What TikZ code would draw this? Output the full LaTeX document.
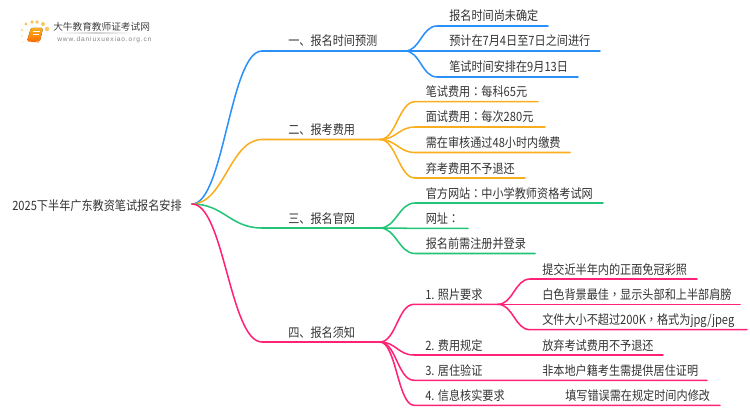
\documentclass[tikz,border=0pt]{standalone}
\usepackage{fontspec}
\setmainfont[FakeStretch=0.87]{Noto Sans CJK SC}
\newfontfamily\punct[FakeStretch=0.87]{Noto Sans CJK TC}
\newfontfamily\logofont{Noto Sans CJK SC}
\newfontfamily\urlfont[LetterSpace=14]{Liberation Sans}
\definecolor{cblue}{HTML}{2A90FB}
\definecolor{corange}{HTML}{F9AE1E}
\definecolor{cgreen}{HTML}{22C577}
\definecolor{cpink}{HTML}{FF2277}
\definecolor{ctext}{HTML}{333333}
\tikzset{
  label/.style={anchor=base west,inner sep=0pt,text=ctext,font=\fontsize{9.6pt}{11pt}\selectfont},
  link/.style={line width=1.15pt,line cap=round},
}
% from, colour, line start x, line end x, y, dx
\newcommand\conn[6]{%
  \coordinate (a) at (#3,#5);\coordinate (b) at (#4,#5);
  \draw[link,#2] (#1) .. controls +(#6,0) and ({#3-#6},#5) .. (a) -- (b);}
\begin{document}
\begin{tikzpicture}[x=0.75pt,y=-0.75pt]
\useasboundingbox (0,0) rectangle (750,410);
% logo
\fill[corange!70] (26,24) circle[radius=1.6];
\fill[corange!70] (32,22) circle[radius=1.8];
\fill[corange!70] (37,22) circle[radius=1.9];
\fill[corange!70] (43,24) circle[radius=2];
\fill[corange!70] (47,29) circle[radius=2.2];
\fill[corange!45] (22,30) circle[radius=1.4];
\fill[corange!35] (22,36) circle[radius=1.2];
\fill[corange!25] (23,42) circle[radius=.9];
\fill[rounded corners=1pt,top color=corange,bottom color=orange!90!red] (31,28) -- (43,28) -- (40,41) -- (27,41) -- cycle;
\draw[white,line width=.5pt] (33,31) -- (40,31) (32.5,34) -- (39,34);
\draw[orange!80!red,line width=.7pt] (28,41) -- (39,42);
\node[anchor=base west,inner sep=0pt,text=black!75] (logotext) at (53,31) {\logofont\fontsize{7.25pt}{8pt}\selectfont 大牛教育教师证考试网};
\fill[left color=white,right color=white,middle color=black!18] (58,33) rectangle (135,34);
\node[anchor=base west,inner sep=0pt,text=black!50] (logourl) at (57,41.5) {\urlfont\fontsize{4.9pt}{6pt}\selectfont www.daniuxuexiao.org.cn};
% root
\node[label,anchor=base west] (root) at (12,210) {2025下半年广东教资笔试报名安排};
\coordinate (r) at (192,204);
\coordinate (j1) at (405,51);
\coordinate (j2) at (380,139.5);
\coordinate (j3) at (380,228);
\coordinate (j4) at (380,342);
\coordinate (j5) at (498,304.3);
% main branches
\conn{r}{cblue}{262}{405}{51}{32}
\conn{r}{corange}{262}{380}{139.5}{32}
\conn{r}{cgreen}{262}{380}{228}{32}
\conn{r}{cpink}{262}{380}{342}{32}
\node[label] (n1) at (288,46) {一、报名时间预测};
\node[label] (n2) at (288,134.5) {二、报考费用};
\node[label] (n3) at (288,223) {三、报名官网};
\node[label] (n4) at (288,337) {四、报名须知};
% branch 1
\conn{j1}{cblue}{437}{548}{26}{15}
\conn{j1}{cblue}{437}{600}{51}{15}
\conn{j1}{cblue}{437}{578}{77}{15}
\node[label] (n11) at (449,21) {报名时间尚未确定};
\node[label] (n12) at (449,46) {预计在7月4日至7日之间进行};
\node[label] (n13) at (449,72) {笔试时间安排在9月13日};
% branch 2
\conn{j2}{corange}{415}{538}{101.7}{16}
\conn{j2}{corange}{415}{545}{127}{16}
\conn{j2}{corange}{415}{570}{152.5}{16}
\conn{j2}{corange}{415}{525}{178}{16}
\node[label] (n21) at (425.5,96.7) {笔试费用{\punct ：}每科65元};
\node[label] (n22) at (425.5,122) {面试费用{\punct ：}每次280元};
\node[label] (n23) at (425.5,147.5) {需在审核通过48小时内缴费};
\node[label] (n24) at (425.5,173) {弃考费用不予退还};
% branch 3
\conn{j3}{cgreen}{415}{603}{203}{16}
\conn{j3}{cgreen}{415}{468}{228.3}{16}
\conn{j3}{cgreen}{415}{535}{253.5}{16}
\node[label] (n31) at (425.5,198) {官方网站{\punct ：}中小学教师资格考试网};
\node[label] (n32) at (425.5,223.3) {网址{\punct ：}};
\node[label] (n33) at (425.5,248.5) {报名前需注册并登录};
% branch 4
\conn{j4}{cpink}{414}{498}{304.3}{16}
\conn{j4}{cpink}{414}{663}{355}{16}
\conn{j4}{cpink}{414}{707}{380.3}{16}
\conn{j4}{cpink}{414}{720}{405.3}{16}
\node[label] (n41) at (425,299.3) {1. 照片要求};
\node[label] (n42) at (425,350) {2. 费用规定};
\node[label] (n43) at (425,375.3) {3. 居住验证};
\node[label] (n44) at (425,400.3) {4. 信息核实要求};
% photo sub-branch
\conn{j5}{cpink}{530}{697}{279}{15}
\conn{j5}{cpink}{530}{740}{304.3}{15}
\conn{j5}{cpink}{530}{747}{329.7}{15}
\node[label] (n411) at (542,274) {提交近半年内的正面免冠彩照};
\node[label] (n412) at (542,299.3) {白色背景最佳{\punct ，}显示头部和上半部肩膀};
\node[label] (n413) at (542,324.7) {文件大小不超过200K{\punct ，}格式为jpg/jpeg};
\node[label] (n421) at (542,350) {放弃考试费用不予退还};
\node[label] (n431) at (542,375.3) {非本地户籍考生需提供居住证明};
\node[label] (n441) at (565,400.3) {填写错误需在规定时间内修改};
\end{tikzpicture}
\end{document}
